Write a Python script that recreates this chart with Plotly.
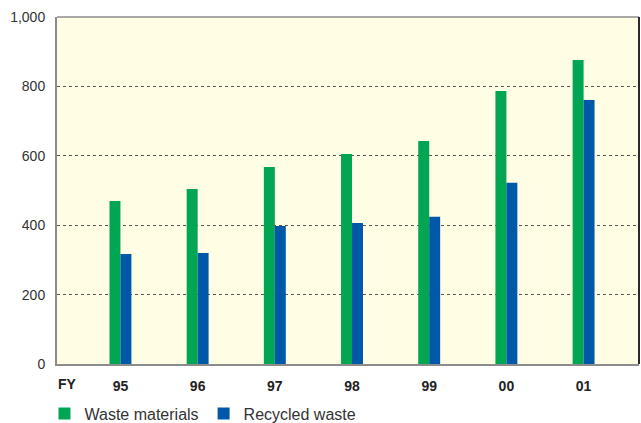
import plotly.graph_objects as go

# Fiscal years and annual amounts
years = ["95", "96", "97", "98", "99", "00", "01"]
waste_materials = [470, 504, 568, 605, 643, 787, 876]
recycled_waste = [317, 320, 398, 406, 424, 522, 761]
y_ticks = [0, 200, 400, 600, 800, 1000]
y_tick_labels = ["0", "200", "400", "600", "800", "1,000"]

GREEN = "#00a651"
BLUE = "#0058a9"
FONT = "Liberation Sans, Arial, Helvetica, sans-serif"
BAR_W = 0.142

fig = go.Figure()
fig.add_trace(go.Bar(
    x=years, y=waste_materials, name="Waste materials",
    marker=dict(color=GREEN, line=dict(width=0)),
    width=BAR_W, offset=-BAR_W,
))
fig.add_trace(go.Bar(
    x=years, y=recycled_waste, name="Recycled waste",
    marker=dict(color=BLUE, line=dict(width=0)),
    width=BAR_W, offset=0,
))

fig.update_layout(
    width=641, height=423,
    margin=dict(l=57, r=2, t=17, b=59, autoexpand=False),
    paper_bgcolor="white",
    plot_bgcolor="#fffde3",
    font=dict(family=FONT, color="#333333"),
    barmode="overlay",
    showlegend=True,
    legend=dict(
        orientation="h", x=-0.0215, xanchor="left", y=-0.094, yanchor="top",
        font=dict(size=16, color="#333333", family=FONT),
        bgcolor="rgba(0,0,0,0)", itemwidth=30, tracegroupgap=0,
    ),
    xaxis=dict(
        type="category", range=[-0.822, 6.718],
        showgrid=False, zeroline=False,
        showline=True, linecolor="#8c8c8c", linewidth=2, mirror=False,
        ticks="", ticklabelstandoff=8,
        tickfont=dict(size=14, family=FONT, color="#222222", weight="bold"),
    ),
    yaxis=dict(
        range=[0, 1000], tickvals=y_ticks, ticktext=y_tick_labels,
        showgrid=True, gridcolor="#555555", gridwidth=1.2, griddash="3px,3px",
        zeroline=False,
        showline=True, linecolor="#8c8c8c", linewidth=2, mirror=False,
        ticks="", ticklabelstandoff=7,
        tickfont=dict(size=14, family=FONT, color="#333333"),
    ),
    annotations=[dict(
        text="<b>FY</b>", xref="paper", yref="paper", x=-0.001, y=-0.058,
        xanchor="left", yanchor="middle", showarrow=False,
        font=dict(size=14, family=FONT, color="#222222"),
    )],
    shapes=[
        # plot frame: light top edge, dark right edge
        dict(type="line", xref="paper", yref="paper", x0=0, x1=1, y0=1, y1=1,
             line=dict(color="#8c8c8c", width=1.5)),
        dict(type="line", xref="paper", yref="paper", x0=1, x1=1, y0=0, y1=1,
             line=dict(color="#2a2a2a", width=2)),
    ],
)

fig.write_html("out.html")
